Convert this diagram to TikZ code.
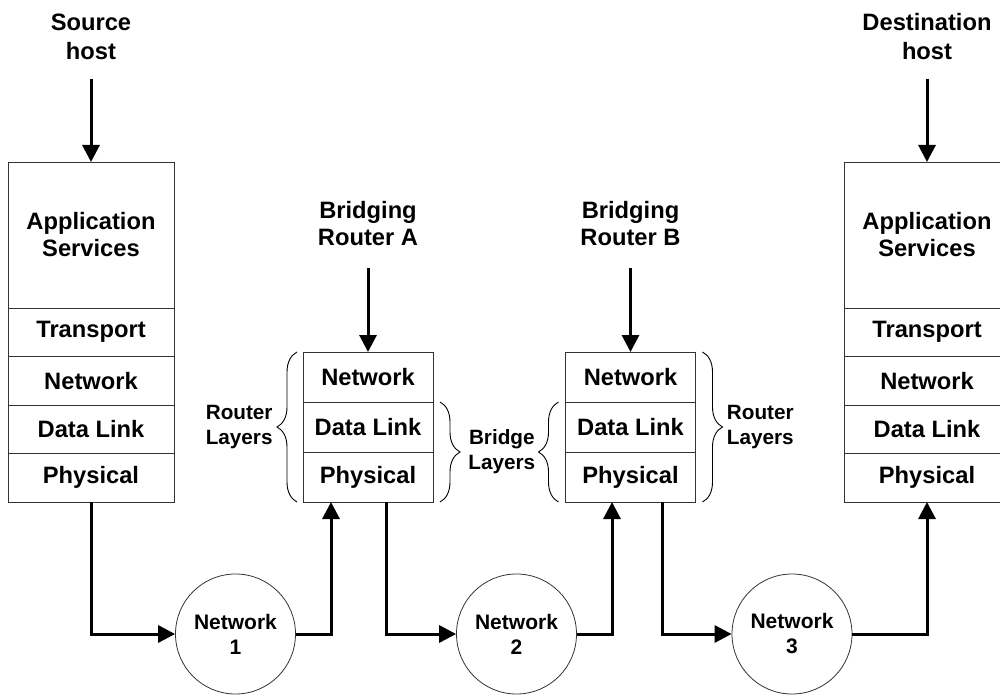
\documentclass[tikz,border=0pt]{standalone}
\usepackage{fontspec}
\setmainfont{Liberation Sans}
\usetikzlibrary{arrows.meta,positioning,decorations.pathreplacing}

\begin{document}
\begin{tikzpicture}
    [x=1pt,y=-1pt,>={Triangle[length=17pt,width=17pt]},
        font=\bfseries\fontsize{23.7}{27}\selectfont,
        layer/.style={rectangle,draw=black!80,line width=0.8pt,align=center,inner sep=0pt,outer sep=0pt,minimum height=48.5pt},
        host layer/.style={layer,minimum width=166pt},
        router layer/.style={layer,minimum width=130pt,minimum height=50pt},
        net node/.style={circle,draw=black!80,line width=0.8pt,minimum size=120pt,inner sep=0pt,align=center,font=\bfseries\fontsize{21}{25}\selectfont},
        title/.style={align=center,inner sep=0pt},
        flow/.style={->,line width=3pt},
        brace/.style={decorate,decoration={brace,amplitude=20pt},line width=0.9pt,draw=black},
        brace label/.style={align=center,inner sep=0pt,font=\bfseries\fontsize{20.7}{25}\selectfont}]

    \useasboundingbox (0,0) rectangle (1000,695);

    % end hosts
    \node[host layer,minimum height=146pt] (sapp) at (91,235) {Application\\Services};
    \node[host layer,below=0pt of sapp] (strn) {Transport};
    \node[host layer,below=0pt of strn] (snet) {Network};
    \node[host layer,below=0pt of snet] (sdl) {Data Link};
    \node[host layer,below=0pt of sdl] (sphy) {Physical};

    \node[host layer,minimum height=146pt] (dapp) at (927,235) {Application\\Services};
    \node[host layer,below=0pt of dapp] (dtrn) {Transport};
    \node[host layer,below=0pt of dtrn] (dnet) {Network};
    \node[host layer,below=0pt of dnet] (ddl) {Data Link};
    \node[host layer,below=0pt of ddl] (dphy) {Physical};

    % bridging routers
    \node[router layer] (ranet) at (368,377) {Network};
    \node[router layer,below=0pt of ranet] (radl) {Data Link};
    \node[router layer,below=0pt of radl] (raphy) {Physical};

    \node[router layer] (rbnet) at (630.5,377) {Network};
    \node[router layer,below=0pt of rbnet] (rbdl) {Data Link};
    \node[router layer,below=0pt of rbdl] (rbphy) {Physical};

    % networks
    \node[net node] (n1) at (235.5,634) {Network\\1};
    \node[net node] (n2) at (516.5,634) {Network\\2};
    \node[net node] (n3) at (792,634) {Network\\3};

    % titles
    \node[title,font=\bfseries\fontsize{23.7}{29}\selectfont] (src) at (91,37) {Source\\host};
    \node[title,font=\bfseries\fontsize{23.7}{29}\selectfont] (dst) at (927,37) {Destination\\host};
    \node[title] (bra) at (368,224) {Bridging\\Router A};
    \node[title] (brb) at (630.5,224) {Bridging\\Router B};

    \draw[flow] ([yshift=-19pt]src.south) -- (sapp.north);
    \draw[flow] ([yshift=-19pt]dst.south) -- (dapp.north);
    \draw[flow] ([yshift=-22pt]bra.south) -- (ranet.north);
    \draw[flow] ([yshift=-22pt]brb.south) -- (rbnet.north);

    \draw[flow] (sphy.south) |- (n1.west);
    \draw[flow] (n1.east) -| ([xshift=-37pt]raphy.south);
    \draw[flow] ([xshift=18pt]raphy.south) |- (n2.west);
    \draw[flow] (n2.east) -| ([xshift=-18.5pt]rbphy.south);
    \draw[flow] ([xshift=31.5pt]rbphy.south) |- (n3.west);
    \draw[flow] (n3.east) -| (dphy.south);

    % layer braces
    \draw[brace] ([xshift=-6pt]raphy.south west) -- node[brace label,left=24pt] (rla) {Router\\Layers} ([xshift=-6pt]ranet.north west);
    \draw[brace] ([xshift=7pt]radl.north east) -- node[brace label,right=28pt] (bl) {Bridge\\Layers} ([xshift=7pt]raphy.south east);
    \draw[brace] ([xshift=-7pt]rbphy.south west) -- ([xshift=-7pt]rbdl.north west);
    \draw[brace] ([xshift=7pt]rbnet.north east) -- node[brace label,right=24pt] (rlb) {Router\\Layers} ([xshift=7pt]rbphy.south east);
\end{tikzpicture}
\end{document}
